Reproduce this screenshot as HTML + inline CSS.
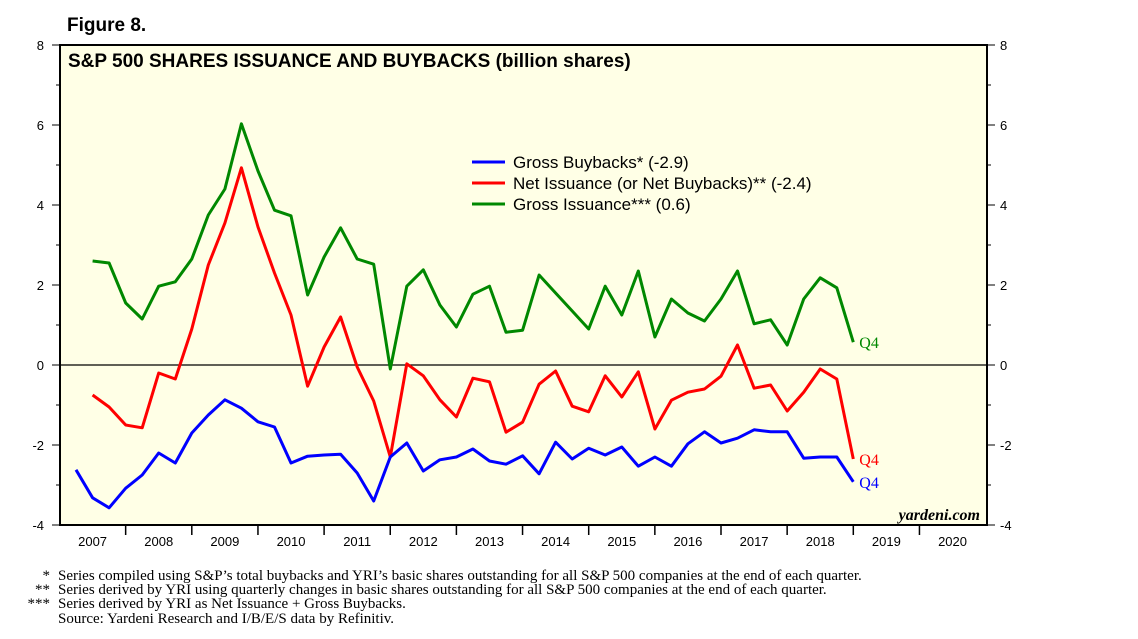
<!DOCTYPE html>
<html><head><meta charset="utf-8"><style>
body{margin:0;background:#fff;width:1138px;height:634px;overflow:hidden}
svg text{font-family:"Liberation Sans",sans-serif}
</style></head><body>
<svg width="1138" height="634">
<text x="67" y="31" font-size="19" font-weight="bold">Figure 8.</text>
<rect x="60" y="45" width="927" height="480" fill="#ffffe6" stroke="#000" stroke-width="2"/>
<text x="68" y="67" font-size="19" font-weight="bold">S&amp;P 500 SHARES ISSUANCE AND BUYBACKS (billion shares)</text>
<g id="axes"></g>
<g id="series"></g>
<g>
<line x1="472" y1="162" x2="505" y2="162" stroke="#00f" stroke-width="3"/>
<text x="513" y="168" font-size="17">Gross Buybacks* (-2.9)</text>
<line x1="472" y1="183" x2="505" y2="183" stroke="#f00" stroke-width="3"/>
<text x="513" y="189" font-size="17">Net Issuance (or Net Buybacks)** (-2.4)</text>
<line x1="472" y1="204" x2="505" y2="204" stroke="#080" stroke-width="3"/>
<text x="513" y="210" font-size="17">Gross Issuance*** (0.6)</text>
</g>
<text x="980" y="520" font-size="16" font-style="italic" font-weight="bold" text-anchor="end" style="font-family:'Liberation Serif',serif">yardeni.com</text>
<g font-size="15">
<text x="50" y="580" text-anchor="end" style="font-family:'Liberation Serif',serif">*</text><text x="58" y="580" style="font-family:'Liberation Serif',serif">Series compiled using S&amp;P’s total buybacks and YRI’s basic shares outstanding for all S&amp;P 500 companies at the end of each quarter.</text>
<text x="50" y="594" text-anchor="end" style="font-family:'Liberation Serif',serif">**</text><text x="58" y="594" style="font-family:'Liberation Serif',serif">Series derived by YRI using quarterly changes in basic shares outstanding for all S&amp;P 500 companies at the end of each quarter.</text>
<text x="50" y="608" text-anchor="end" style="font-family:'Liberation Serif',serif">***</text><text x="58" y="608" style="font-family:'Liberation Serif',serif">Series derived by YRI as Net Issuance + Gross Buybacks.</text>
<text x="58" y="623" style="font-family:'Liberation Serif',serif">Source: Yardeni Research and I/B/E/S data by Refinitiv.</text>
</g>
</svg>
<script>
const years=[2007,2008,2009,2010,2011,2012,2013,2014,2015,2016,2017,2018,2019,2020];
const yTicks=[-4,-2,0,2,4,6,8];
const buybacks=[-2.62,-3.32,-3.57,-3.08,-2.75,-2.2,-2.45,-1.7,-1.25,-0.87,-1.08,-1.42,-1.55,-2.45,-2.28,-2.25,-2.23,-2.7,-3.4,-2.3,-1.95,-2.65,-2.37,-2.3,-2.1,-2.4,-2.48,-2.27,-2.72,-1.93,-2.35,-2.08,-2.25,-2.05,-2.53,-2.3,-2.53,-1.97,-1.67,-1.95,-1.83,-1.62,-1.67,-1.67,-2.33,-2.3,-2.3,-2.92];
const netIssuance=[-0.75,-1.05,-1.5,-1.57,-0.2,-0.35,0.9,2.5,3.55,4.93,3.45,2.3,1.25,-0.53,0.45,1.2,-0.05,-0.9,-2.3,0.03,-0.27,-0.87,-1.3,-0.33,-0.42,-1.68,-1.43,-0.48,-0.15,-1.03,-1.17,-0.27,-0.8,-0.17,-1.6,-0.88,-0.68,-0.6,-0.28,0.5,-0.58,-0.5,-1.15,-0.68,-0.1,-0.35,-2.35];
const grossIssuance=[2.6,2.55,1.55,1.15,1.97,2.08,2.65,3.75,4.4,6.03,4.85,3.87,3.73,1.75,2.7,3.43,2.65,2.52,-0.1,1.97,2.38,1.5,0.95,1.77,1.97,0.82,0.87,2.25,1.8,1.35,0.9,1.97,1.25,2.35,0.7,1.65,1.3,1.1,1.65,2.35,1.03,1.13,0.5,1.65,2.18,1.93,0.57];
const NS="http://www.w3.org/2000/svg";
const xS=t=>59.5+(t-2007)*66.15;
const yS=v=>365-v*40;
function mk(tag,attrs,parent,txt){const e=document.createElementNS(NS,tag);for(const k in attrs)e.setAttribute(k,attrs[k]);if(txt!==undefined)e.textContent=txt;parent.appendChild(e);return e;}
const ax=document.getElementById('axes');
yTicks.forEach(v=>{
 const y=yS(v);
 let t=mk('line',{x1:52,x2:60,y1:y,y2:y,stroke:'#000'},ax);
 
 
 t=mk('line',{x1:987,x2:995,y1:y,y2:y,stroke:'#000'},ax);
 
 
 let l=mk('text',{x:44,y:y+5,'font-size':13,'text-anchor':'end'},ax,v);
 
 
 l=mk('text',{x:1000,y:y+5,'font-size':13},ax,v);
 
 
});
for(let v=-3;v<8;v+=2){const y=yS(v);
 let t=mk('line',{x1:56,x2:60,y1:y,y2:y,stroke:'#000'},ax);
 t=mk('line',{x1:987,x2:991,y1:y,y2:y,stroke:'#000'},ax);}
let z=mk('line',{x1:60,x2:987,y1:yS(0),y2:yS(0),stroke:'#000','stroke-width':1.2},ax);


years.forEach((yr,i)=>{
 if(i>0){const t=mk('line',{x1:xS(yr),x2:xS(yr),y1:525,y2:535,stroke:'#000','stroke-width':1.5},ax);
 
 }
 const l=mk('text',{x:xS(yr+0.5),y:546,'font-size':13,'text-anchor':'middle'},ax,yr);
 
 
});
const sg=document.getElementById('series');
function line(data,start,color,name){
 const pts=data.map((v,i)=>xS(2007+start+(i+1)*0.25).toFixed(1)+','+yS(v).toFixed(1)).join(' ');
 const p=mk('polyline',{points:pts,fill:'none',stroke:color,'stroke-width':3,'stroke-linejoin':'round'},sg);
 
 
 const last=data[data.length-1];
 const q=mk('text',{x:xS(2019)+6,y:yS(last)+6,'font-size':16,fill:color,style:"font-family:'Liberation Serif',serif"},sg,'Q4');
 
 
}
line(grossIssuance,0.25,'#080','gross-issuance-line');
line(netIssuance,0.25,'#f00','net-issuance-line');
line(buybacks,0,'#00f','gross-buybacks-line');
</script>
</body></html>
